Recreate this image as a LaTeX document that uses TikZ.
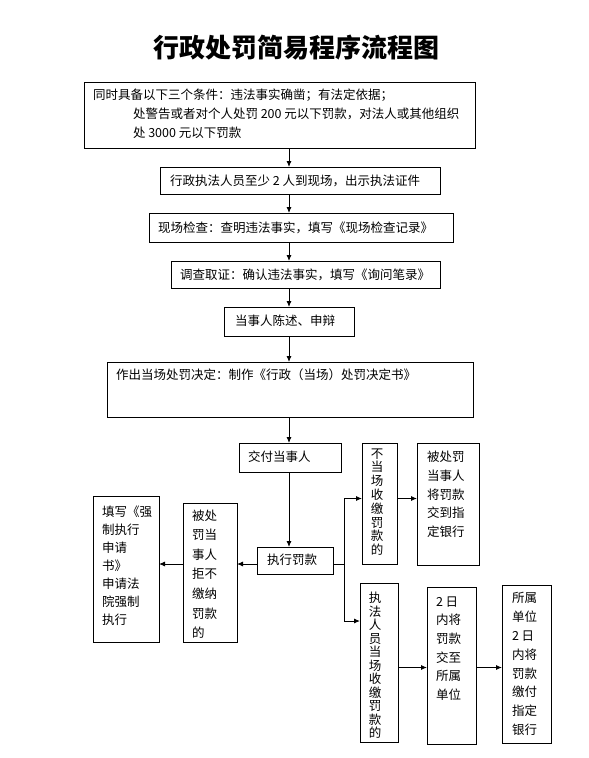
\documentclass[tikz,border=0pt]{standalone}
\usepackage{fontspec}
\setmainfont{Noto Sans CJK SC}
\usetikzlibrary{arrows.meta}
\tikzset{
  box/.style={draw=black, line width=1pt, inner sep=0pt, outer sep=0pt, anchor=north west},
  txt/.style={inner sep=0pt, outer sep=0pt, anchor=west, align=left, font=\fontsize{12.5}{19}\selectfont},
  vtxt/.style={inner sep=0pt, outer sep=0pt, anchor=center, align=center, font=\fontsize{12.5}{13.8}\selectfont},
  conn/.style={draw=black, line width=0.9pt},
  arr/.style={conn, -{Latex[length=6pt,width=5pt]}}
}
\newcommand{\bx}[5]{\node[box, minimum width=#4pt-#2pt, minimum height=#5pt-#3pt] (#1) at (#2,#3) {};}
\begin{document}
\begin{tikzpicture}[x=1pt,y=-1pt]
\useasboundingbox (0,0) rectangle (589,758);
\node[inner sep=0pt, font=\fontsize{26}{30}\selectfont\bfseries] (title) at (296,48) {行政处罚简易程序流程图};
% boxes
\bx{b1}{84}{82}{475}{148}
\bx{b2}{160}{167}{440}{194}
\bx{b3}{149}{213}{453}{242}
\bx{b4}{171}{261}{440}{288}
\bx{b5}{224}{307}{354}{336}
\bx{b6}{107}{362}{473}{417}
\bx{b7}{239}{443}{341}{472}
\bx{b8}{257}{547}{333}{574}
\bx{b9}{362}{443}{397}{564}
\bx{b10}{417}{443}{479}{565}
\bx{b11}{183}{503}{237}{642}
\bx{b12}{93}{496}{159}{642}
\bx{b13}{360}{583}{398}{742}
\bx{b14}{427}{587}{476}{744}
\bx{b15}{502}{585}{551}{743}
% texts
\node[txt] (t1) at (93,114) {同时具备以下三个条件：违法事实确凿；有法定依据；\\\hspace*{40pt}处警告或者对个人处罚 200 元以下罚款，对法人或其他组织\\\hspace*{40pt}处 3000 元以下罚款};
\node[txt] (t2) at (170,181) {行政执法人员至少 2 人到现场，出示执法证件};
\node[txt] (t3) at (158,227.5) {现场检查：查明违法事实，填写《现场检查记录》};
\node[txt] (t4) at (180,274.5) {调查取证：确认违法事实，填写《询问笔录》};
\node[txt] (t5) at (235,321) {当事人陈述、申辩};
\node[txt] (t6) at (116,375) {作出当场处罚决定：制作《行政（当场）处罚决定书》};
\node[txt] (t7) at (248,457) {交付当事人};
\node[txt] (t8) at (267,560) {执行罚款};
\node[vtxt] (t9) at (377,502) {不\\当\\场\\收\\缴\\罚\\款\\的};
\node[txt, font=\fontsize{12.5}{18.75}\selectfont] (t10) at (427,494.5) {被处罚\\当事人\\将罚款\\交到指\\定银行};
\node[txt, font=\fontsize{12.5}{19.6}\selectfont] (t11) at (192,574) {被处\\罚当\\事人\\拒不\\缴纳\\罚款\\的};
\node[txt, font=\fontsize{12.5}{18}\selectfont] (t12) at (102,566) {填写《强\\制执行\\申请\\书》\\申请法\\院强制\\执行};
\node[vtxt, font=\fontsize{12.5}{13.5}\selectfont] (t13) at (375,665.5) {执\\法\\人\\员\\当\\场\\收\\缴\\罚\\款\\的};
\node[txt, font=\fontsize{12.5}{18.6}\selectfont] (t14) at (436,648.5) {2 日\\内将\\罚款\\交至\\所属\\单位};
\node[txt, font=\fontsize{12.5}{18.86}\selectfont] (t15) at (512,664) {所属\\单位\\2 日\\内将\\罚款\\缴付\\指定\\银行};
% helper coordinates
\coordinate (sp) at (289,0);
\coordinate (ly) at (0,564);
\coordinate (jn) at (344,564);
\coordinate (ua) at (0,498.5);
\coordinate (da) at (0,621);
\coordinate (ra) at (0,667.5);
% connectors
\draw[arr] (b1.south -| sp) -- (b2.north -| sp);
\draw[arr] (b2.south -| sp) -- (b3.north -| sp);
\draw[arr] (b3.south -| sp) -- (b4.north -| sp);
\draw[arr] (b4.south -| sp) -- (b5.north -| sp);
\draw[arr] (b5.south -| sp) -- (b6.north -| sp);
\draw[arr] (b6.south -| sp) -- (b7.north -| sp);
\draw[arr] (b7.south -| sp) -- (b8.north -| sp);
\draw[arr] (b8.west |- ly) -- (b11.east |- ly);
\draw[arr] (b11.west |- ly) -- (b12.east |- ly);
\draw[conn] (b8.east |- jn) -- (jn);
\draw[arr] (jn) |- (b9.west |- ua);
\draw[arr] (jn) |- (b13.west |- da);
\draw[arr] (b9.east |- ua) -- (b10.west |- ua);
\draw[arr] (b13.east |- ra) -- (b14.west |- ra);
\draw[arr] (b14.east |- ra) -- (b15.west |- ra);
\end{tikzpicture}
\end{document}
